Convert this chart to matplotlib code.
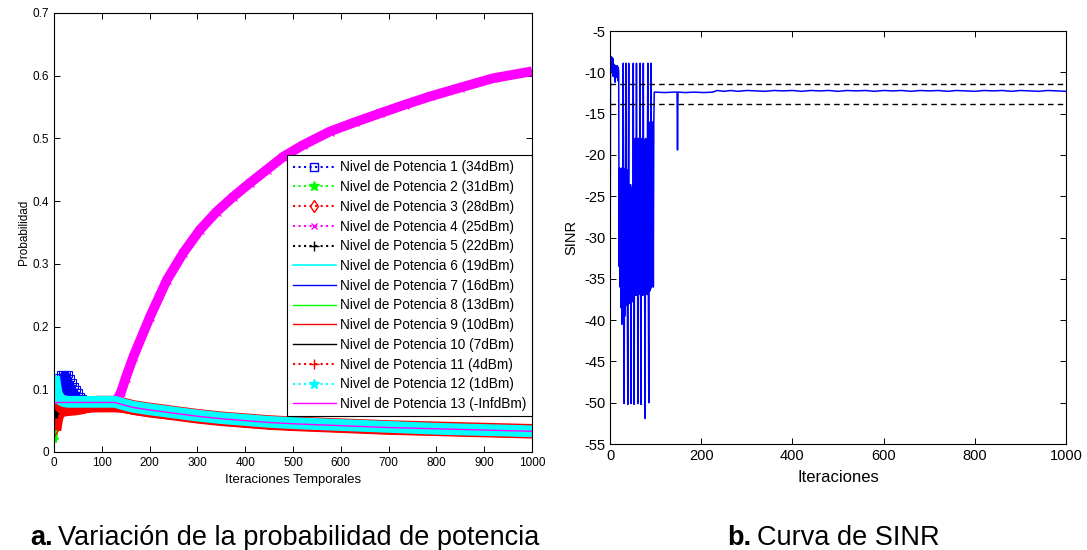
import matplotlib
matplotlib.use("Agg")
import matplotlib.pyplot as plt
from matplotlib.lines import Line2D

plt.rcParams['font.family'] = ['Liberation Sans', 'DejaVu Sans']
plt.rcParams['axes.unicode_minus'] = False
plt.rcParams['path.simplify'] = False  # si no, se pierden las oscilaciones rapidas

# ---------------- datos: probabilidad por nivel de potencia ----------------
it_comun = [0, 3, 6, 10, 15, 20, 30, 45, 60, 90, 128, 145, 166, 200, 250, 300,
            350, 400, 450, 500, 600, 700, 800, 900, 1000]

# nivel 1: oscila al principio (zona azul)
it_p1 = [0, 2, 4, 6, 8, 10, 12, 14, 16, 18, 20, 22, 24, 26, 28, 30, 32, 34, 36,
         38, 40, 42, 44, 46, 48, 50, 52, 54, 56, 58, 60, 64, 90, 128, 145, 166,
         200, 250, 300, 350, 400, 450, 500, 600, 700, 800, 900, 1000]
p1 = [0.095, 0.083, 0.112, 0.084, 0.120, 0.084, 0.124, 0.085, 0.125, 0.084,
      0.125, 0.085, 0.124, 0.084, 0.125, 0.085, 0.124, 0.085, 0.118, 0.084,
      0.112, 0.084, 0.106, 0.083, 0.100, 0.083, 0.095, 0.082, 0.090, 0.082,
      0.086, 0.081, 0.080, 0.080, 0.075, 0.071, 0.067, 0.062, 0.057, 0.053,
      0.050, 0.047, 0.045, 0.042, 0.039, 0.037, 0.035, 0.033]
p2 = [0.020, 0.045, 0.058, 0.064, 0.067, 0.068, 0.069, 0.069, 0.069, 0.072, 0.072,
      0.071, 0.068, 0.064, 0.060, 0.055, 0.051, 0.048, 0.045, 0.043, 0.040, 0.037,
      0.035, 0.033, 0.032]
p3 = [0.035, 0.050, 0.060, 0.065, 0.067, 0.068, 0.069, 0.070, 0.072, 0.078, 0.078,
      0.075, 0.071, 0.067, 0.062, 0.057, 0.053, 0.050, 0.047, 0.045, 0.042, 0.039,
      0.037, 0.035, 0.033]
# nivel 4 (25dBm) crece hasta 0.6
it_p4 = [0, 30, 60, 90, 128, 140, 150, 166, 201, 236, 270, 305, 340, 375, 410,
         445, 480, 520, 577, 630, 682, 735, 787, 850, 919, 1000]
p4 = [0.077, 0.078, 0.078, 0.078, 0.078, 0.095, 0.118, 0.152, 0.216, 0.274, 0.317,
      0.354, 0.383, 0.407, 0.429, 0.450, 0.471, 0.489, 0.511, 0.526, 0.540, 0.554,
      0.567, 0.581, 0.596, 0.607]
p5 = [0.055, 0.062, 0.066, 0.069, 0.071, 0.072, 0.072, 0.072, 0.072, 0.071, 0.071,
      0.070, 0.067, 0.063, 0.059, 0.054, 0.050, 0.047, 0.045, 0.043, 0.040, 0.037,
      0.035, 0.033, 0.032]
p6 = [0.077, 0.078, 0.079, 0.080, 0.080, 0.080, 0.080, 0.080, 0.080, 0.080, 0.080,
      0.076, 0.072, 0.068, 0.063, 0.058, 0.054, 0.051, 0.048, 0.046, 0.043, 0.040,
      0.038, 0.036, 0.034]
p7 = [0.077, 0.078, 0.079, 0.080, 0.080, 0.080, 0.080, 0.080, 0.080, 0.078, 0.078,
      0.074, 0.070, 0.066, 0.061, 0.056, 0.052, 0.049, 0.046, 0.044, 0.041, 0.038,
      0.036, 0.034, 0.033]
p8 = [0.077, 0.074, 0.072, 0.071, 0.070, 0.070, 0.070, 0.070, 0.070, 0.072, 0.072,
      0.071, 0.068, 0.064, 0.060, 0.055, 0.051, 0.048, 0.045, 0.043, 0.040, 0.037,
      0.035, 0.033, 0.032]
p9 = [0.077, 0.073, 0.071, 0.070, 0.069, 0.069, 0.069, 0.069, 0.069, 0.072, 0.072,
      0.071, 0.068, 0.064, 0.060, 0.055, 0.051, 0.048, 0.045, 0.043, 0.040, 0.037,
      0.035, 0.033, 0.032]
p10 = [0.077, 0.074, 0.073, 0.072, 0.072, 0.072, 0.072, 0.072, 0.072, 0.071, 0.071,
       0.070, 0.067, 0.063, 0.059, 0.054, 0.050, 0.047, 0.045, 0.043, 0.040, 0.037,
       0.035, 0.033, 0.032]
p11 = [0.104, 0.090, 0.080, 0.074, 0.070, 0.069, 0.069, 0.070, 0.071, 0.072, 0.072,
       0.071, 0.068, 0.064, 0.060, 0.055, 0.051, 0.048, 0.045, 0.043, 0.040, 0.037,
       0.035, 0.033, 0.031]
p12 = [0.120, 0.105, 0.092, 0.086, 0.083, 0.081, 0.080, 0.080, 0.080, 0.080, 0.080,
       0.076, 0.072, 0.068, 0.063, 0.058, 0.054, 0.051, 0.048, 0.046, 0.043, 0.040,
       0.037, 0.035, 0.033]
p13 = [0.077, 0.078, 0.079, 0.079, 0.079, 0.079, 0.079, 0.079, 0.079, 0.079, 0.079,
       0.075, 0.071, 0.067, 0.062, 0.057, 0.053, 0.050, 0.047, 0.045, 0.042, 0.039,
       0.037, 0.035, 0.033]

etiquetas = ['Nivel de Potencia 1 (34dBm)', 'Nivel de Potencia 2 (31dBm)',
             'Nivel de Potencia 3 (28dBm)', 'Nivel de Potencia 4 (25dBm)',
             'Nivel de Potencia 5 (22dBm)', 'Nivel de Potencia 6 (19dBm)',
             'Nivel de Potencia 7 (16dBm)', 'Nivel de Potencia 8 (13dBm)',
             'Nivel de Potencia 9 (10dBm)', 'Nivel de Potencia 10 (7dBm)',
             'Nivel de Potencia 11 (4dBm)', 'Nivel de Potencia 12 (1dBm)',
             'Nivel de Potencia 13 (-InfdBm)']

# ---------------- datos: SINR ----------------
sinr_ini = [-45.0, -10.8, -8.1, -9.0, -8.2, -9.9, -8.3, -10.5, -9.0, -9.6,
            -9.1, -11.2, -9.2, -9.8, -9.3, -10.6, -9.2, -11.0, -9.4, -9.9,
            -33.5, -21.6, -36.0, -21.8, -38.5, -21.6, -40.5, -21.9, -39.0, -8.9,
            -40.3, -50.1, -21.7, -39.5, -22.0, -8.9, -38.2, -21.8, -37.9, -50.2,
            -23.8, -8.9, -38.0, -24.2, -37.6, -23.6, -50.1, -24.0, -37.8, -23.9,
            -37.2, -8.9, -36.6, -50.2, -18.1, -36.8, -18.0, -37.0, -8.9, -36.5,
            -18.2, -50.1, -18.0, -36.9, -18.3, -36.4, -8.9, -36.7, -50.2, -18.1,
            -36.6, -18.0, -37.0, -8.9, -36.5, -18.2, -36.8, -51.9, -18.0, -36.6,
            -18.4, -36.9, -18.1, -8.9, -36.4, -50.0, -16.1, -36.5, -16.0, -36.2,
            -8.9, -36.0, -16.2, -35.8, -16.0, -36.0, -16.1, -12.4, -12.4, -12.4]
it_sinr_fin = [100, 120, 140, 147, 148, 149, 165, 185, 205, 225, 235, 250, 265,
               280, 300, 320, 340, 360, 380, 400, 420, 440, 460, 480, 500, 520,
               540, 560, 580, 600, 620, 640, 660, 680, 700, 720, 740, 760, 780,
               800, 820, 840, 860, 880, 900, 920, 940, 960, 980, 1000]
sinr_fin = [-12.4, -12.45, -12.4, -12.4, -19.4, -12.4, -12.45, -12.4, -12.45, -12.4,
            -12.2, -12.3, -12.2, -12.3, -12.2, -12.25, -12.3, -12.2, -12.25, -12.2,
            -12.3, -12.2, -12.25, -12.2, -12.3, -12.2, -12.25, -12.2, -12.3, -12.2,
            -12.25, -12.2, -12.3, -12.2, -12.25, -12.2, -12.3, -12.2, -12.25, -12.3,
            -12.2, -12.25, -12.2, -12.3, -12.2, -12.25, -12.3, -12.2, -12.25, -12.3]
umbral_sup = -11.4
umbral_inf = -13.8

it_sinr = list(range(len(sinr_ini))) + it_sinr_fin
sinr = sinr_ini + sinr_fin

# ---------------- figura ----------------
fig = plt.figure(figsize=(10.87, 5.5), dpi=100)

azul, verde, rojo, mag, cian = '#0000ff', '#00ff00', '#ff0000', '#ff00ff', '#00ffff'

ax1 = fig.add_axes([0.0497, 0.1782, 0.4397, 0.7982])

# (x, y, color, marcador, ancho de la banda que forman los marcadores)
series = [
    (it_comun, p2, verde, '*', 5),
    (it_comun, p3, rojo, 'd', 10.5),
    (it_p4, p4, mag, 'x', 7),
    (it_comun, p5, 'k', '+', 5),
    (it_comun, p6, cian, None, 1),
    (it_comun, p7, azul, None, 1),
    (it_comun, p8, verde, None, 1),
    (it_comun, p9, rojo, None, 1),
    (it_comun, p10, 'k', None, 1),
    (it_comun, p11, rojo, '+', 8),
    (it_comun, p12, cian, '*', 8.5),
    (it_comun, p13, mag, None, 1),
]

# nivel 1 con cuadrados en cada punto
ax1.plot(it_p1, p1, color=azul, lw=1.3, marker='s', ms=4.5, mfc='none', mew=0.8)
for x, y, c, m, w in series:
    ax1.plot(x, y, color=c, lw=w, solid_capstyle='butt')
    if m is not None:
        ax1.plot(x, y, color=c, ls='none', marker=m, ms=6,
                 mfc='none' if m == 'd' else c, mew=0.9)

ax1.set_xlim(0, 1000)
ax1.set_ylim(0, 0.7)
ax1.set_xticks(range(0, 1001, 100))
ax1.set_yticks([0, 0.1, 0.2, 0.3, 0.4, 0.5, 0.6, 0.7])
ax1.set_yticklabels(['0', '0.1', '0.2', '0.3', '0.4', '0.5', '0.6', '0.7'])
ax1.tick_params(direction='in', top=True, right=True, labelsize=8.5, length=4, width=0.7)
ax1.set_xlabel('Iteraciones Temporales', fontsize=9.5, labelpad=4)
ax1.set_ylabel('Probabilidad', fontsize=8.5, labelpad=2)
for s in ax1.spines.values():
    s.set_linewidth(0.8)

leyenda = [
    Line2D([], [], color=azul, ls=':', marker='s', ms=6, mfc='none'),
    Line2D([], [], color=verde, ls=':', marker='*', ms=7),
    Line2D([], [], color=rojo, ls=':', marker='d', ms=6, mfc='none'),
    Line2D([], [], color=mag, ls=':', marker='x', ms=5),
    Line2D([], [], color='k', ls=':', marker='+', ms=7),
    Line2D([], [], color=cian, lw=1.2),
    Line2D([], [], color=azul, lw=1),
    Line2D([], [], color=verde, lw=1),
    Line2D([], [], color=rojo, lw=1),
    Line2D([], [], color='k', lw=1),
    Line2D([], [], color=rojo, ls=':', marker='+', ms=7),
    Line2D([], [], color=cian, ls=':', marker='*', ms=7),
    Line2D([], [], color=mag, lw=1),
]
leg = ax1.legend(leyenda, etiquetas, loc='upper right', bbox_to_anchor=(1.0, 0.6765),
                 borderaxespad=0, fontsize=9.8, handlelength=3.2, labelspacing=0.42,
                 borderpad=0.4, handletextpad=0.3, fancybox=False, framealpha=1,
                 edgecolor='k')
leg.get_frame().set_linewidth(0.8)

# ---------------- SINR ----------------
ax2 = fig.add_axes([0.5612, 0.1927, 0.4195, 0.7509])
ax2.plot(it_sinr, sinr, color=azul, lw=1.1)
ax2.axhline(umbral_sup, color='k', ls='--', lw=1, dashes=(4, 3))
ax2.axhline(umbral_inf, color='k', ls='--', lw=1, dashes=(4, 3))
ax2.set_xlim(0, 1000)
ax2.set_ylim(-55, -5)
ax2.set_xticks(range(0, 1001, 200))
ax2.set_yticks(range(-55, -4, 5))
ax2.tick_params(direction='in', top=True, right=True, labelsize=10.5, length=4, width=0.7)
ax2.set_xlabel('Iteraciones', fontsize=12, labelpad=5)
ax2.set_ylabel('SINR', fontsize=10.5, labelpad=4)
for s in ax2.spines.values():
    s.set_linewidth(0.8)

# ---------------- pies de figura ----------------
fig.text(30 / 1087, 0.022, 'a.', fontsize=19.5, fontweight='bold', va='center')
fig.text(58 / 1087, 0.022, 'Variación de la probabilidad de potencia', fontsize=19.5, va='center')
fig.text(727 / 1087, 0.022, 'b.', fontsize=19.5, fontweight='bold', va='center')
fig.text(757 / 1087, 0.022, 'Curva de SINR', fontsize=19.5, va='center')

fig.savefig('out.png', dpi=100)
